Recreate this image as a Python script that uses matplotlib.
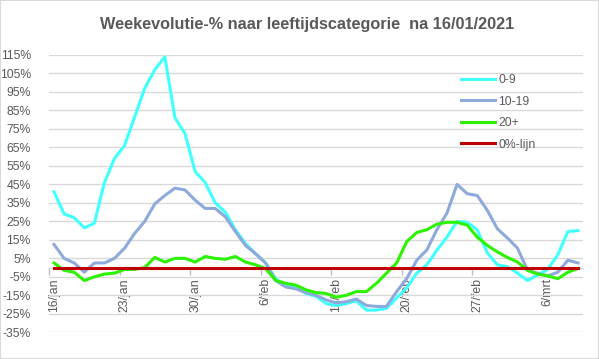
import numpy as np
import pandas as pd
import matplotlib
matplotlib.use("Agg")
import matplotlib.pyplot as plt
from matplotlib.patches import Rectangle

# dagelijkse waarden (%), 16/jan t/m 9/mrt 2021
dates = pd.date_range("2021-01-16", "2021-03-09", freq="D")

age_0_9 = [41, 29, 27, 21.5, 24, 46, 59, 66, 81.5, 97, 107, 114, 81, 72.5, 52,
           46, 35, 30, 20.5, 13, 7.5, 2.5, -6, -10, -10.5, -14, -15.5, -19.5,
           -20.5, -19.5, -18, -23, -23, -22, -16.5, -11, -3, 1.5, 9.5, 16.5,
           25, 24.5, 20.5, 8, 1.5, 0.5, -3, -7, -4, -1, 7, 19.5, 20]

age_10_19 = [12.5, 5, 2.5, -2.5, 2.5, 2.5, 5, 10.5, 18.5, 25, 34.5, 39, 43, 42,
             36.5, 32, 32, 27.5, 19.5, 12, 7.5, 2.5, -7, -10.5, -11.5, -13.5,
             -15, -17.5, -19, -18.5, -17, -20.5, -21, -21, -13, -6, 4, 9.5,
             20.5, 29.5, 45, 40, 39, 31, 21, 16, 10.5, -1.5, -3, -4.5, -2.5,
             4, 2.5]

age_20p = [2.5, -1.5, -2.5, -7, -5, -3.5, -3, -1, -1, 0, 5.5, 3, 5, 5, 3, 6,
           5, 4.5, 6, 3, 1.5, -0.5, -7, -8.5, -9.5, -12, -13.5, -14, -16, -15,
           -13, -13, -8.5, -3, 2.5, 14, 19, 20.5, 23.5, 24.5, 24.5, 23, 16.5,
           12, 8.5, 5.5, 3, -1.5, -3.5, -4.5, -6, -2.5, -0.5]

zero_line = [0] * len(dates)

labels = ["0-9", "10-19", "20+", "0%-lijn"]
colors = ["#40FFFF", "#8EA9DB", "#2CF200", "#C00000"]

tick_days = [0, 7, 14, 21, 28, 35, 42, 49]
tick_labels = ["16/jan", "23/jan", "30/jan", "6/feb", "13/feb", "20/feb", "27/feb", "6/mrt"]

plt.rcParams["font.family"] = ["Liberation Sans", "DejaVu Sans"]
grey = "#595959"

W, H = 599, 359
fig = plt.figure(figsize=(W / 100, H / 100), dpi=100)
ax = fig.add_axes([49 / W, 1 - 332.3 / H, (583 - 49) / W, (332.3 - 55) / H])

# as op 0% (eerst, want set_position zet de ticks opnieuw)
for s in ["top", "right", "left"]:
    ax.spines[s].set_visible(False)
ax.spines["bottom"].set_position(("data", 0))
ax.spines["bottom"].set_color("#D9D9D9")
ax.spines["bottom"].set_zorder(1)

x = np.arange(len(dates))
series = [age_0_9, age_10_19, age_20p, zero_line]
for i, (y, lab, c) in enumerate(zip(series, labels, colors)):
    ax.plot(x, y, color=c, lw=2.2, label=lab, solid_joinstyle="round", zorder=3 + i)

ax.set_xlim(-0.5, len(dates) - 0.5)
ax.set_ylim(-35, 115)
ax.set_yticks(np.arange(-35, 116, 10))
ax.set_yticklabels([f"{v}%" for v in range(-35, 116, 10)])
ax.grid(axis="y", color="#D9D9D9", lw=1)
ax.set_axisbelow(True)

ax.set_xticks([d - 0.5 for d in tick_days], minor=True)
ax.tick_params(axis="x", which="major", length=0, pad=7.5, colors=grey, labelsize=8.8)
ax.tick_params(axis="x", which="minor", length=5, color="#BFBFBF", width=1)
ax.tick_params(axis="y", length=0, pad=13, colors=grey, labelsize=8.8)
ax.set_xticks(tick_days)
ax.set_xticklabels(tick_labels, rotation=90, rotation_mode="default", va="top", ha="center")

leg = ax.legend(loc="upper left", bbox_to_anchor=(461 / W, 1 - 74 / H),
                bbox_transform=fig.transFigure, frameon=False, fontsize=8.8,
                handlelength=2.75, handletextpad=0.3, labelspacing=0.78,
                borderaxespad=0, borderpad=0)
for t in leg.get_texts():
    t.set_color(grey)

fig.text(307.5 / W, 1 - 29.5 / H, "Weekevolutie-% naar leeftijdscategorie  na 16/01/2021",
         ha="center", va="baseline", fontsize=11.7, fontweight="bold", color=grey)

fig.patches.append(Rectangle((0, 0), 1, 1, transform=fig.transFigure, fill=False,
                             edgecolor="#D9D9D9", lw=1.5))

fig.savefig("out.png", dpi=100)
